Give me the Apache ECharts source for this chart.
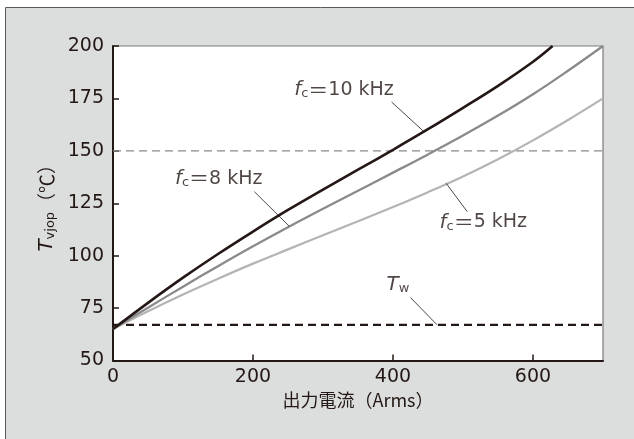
<!DOCTYPE html>
<html>
<head>
<meta charset="utf-8">
<script src="https://cdn.jsdelivr.net/npm/echarts@6/dist/echarts.min.js"></script>
<style>
  html, body { margin: 0; padding: 0; background: #fff; }
  #chart { width: 634px; height: 439px; }
</style>
</head>
<body>
<div id="chart"></div>
<script>
// 出力電流 (Arms)
var currentA = [0, 50, 100, 150, 200, 250, 300, 350, 400, 450, 500, 550, 600, 650, 700];
var currentA10 = [0, 50, 100, 150, 200, 250, 300, 350, 400, 450, 500, 550, 600, 628];

// Tvjop (℃)
var temp10k = [65, 77.5, 89.5, 100.8, 111.5, 121.8, 131.5, 141, 150.5, 160.3, 170.5, 181, 192.5, 200];
var temp8k = [65, 75.2, 85.2, 95, 104.5, 113.6, 122.4, 131, 139.6, 148.3, 157.3, 166.8, 177, 188.2, 200];
var temp5k = [65, 73.5, 81.5, 89, 96.2, 103, 109.7, 116.4, 123.2, 130.3, 137.8, 146, 155, 164.7, 175];

var limitTemp = 150;
var waterTemp = 67;

// 引き出し線
var leader10 = [[398, 173.3], [443, 159.5]];
var leader8 = [[202, 130.5], [252, 114]];
var leader5 = [[476, 134.5], [506, 121]];
var leaderTw = [[425, 80], [463, 67]];

// ラベル
var labelPos = [[330, 179], [151, 136.7], [529, 115.8], [407, 86]];
var labelText = [
    '{i|f}{s|c}{e|＝}{n|10 kHz}',
    '{i|f}{s|c}{e|＝}{n|8 kHz}',
    '{i|f}{s|c}{e|＝}{n|5 kHz}',
    '{i|T}{s|w}'
];

var ink = '#231815';
var numFont = 'DejaVu Sans';
var jpFont = 'Noto Sans CJK JP';

function zip(xs, ys) {
    return xs.map(function(x, i) { return [x, ys[i]]; });
}

var richText = {
    i: {fontFamily: numFont, fontStyle: 'italic', fontSize: 20, color: ink, lineHeight: 21},
    s: {fontFamily: numFont, fontSize: 13, color: ink, verticalAlign: 'bottom', lineHeight: 12},
    e: {fontFamily: jpFont, fontSize: 20, color: ink, lineHeight: 21},
    n: {fontFamily: numFont, fontSize: 19, color: ink, lineHeight: 21}
};

function leaderSeries(pts) {
    return {
        type: 'line', data: pts, symbol: 'none', silent: true,
        lineStyle: {color: ink, width: 0.8}, z: 4
    };
}

var myChart = echarts.init(document.getElementById('chart'), null, {renderer: 'canvas'});

myChart.setOption({
    backgroundColor: '#fff',
    animation: false,
    graphic: [{
        type: 'rect', z: -10, silent: true,
        shape: {x: 5.5, y: 7.5, width: 700, height: 500},
        style: {fill: '#dcdedd', stroke: '#5a5a5a', lineWidth: 1}
    }],
    grid: {
        left: 113, right: 31, top: 46, bottom: 78.5,
        show: true, backgroundColor: '#fff', borderColor: '#7a7a7a', borderWidth: 1.2
    },
    xAxis: {
        type: 'value', min: 0, max: 700, interval: 200,
        name: '出力電流（Arms）', nameLocation: 'middle', nameGap: 29,
        nameTextStyle: {fontFamily: jpFont, fontSize: 18, color: ink},
        axisLine: {show: true, lineStyle: {color: ink, width: 2}},
        axisTick: {show: true, inside: true, length: 6, lineStyle: {color: ink, width: 1.5}},
        axisLabel: {fontFamily: numFont, fontSize: 19, color: ink, margin: 7, showMaxLabel: false},
        splitLine: {show: false}
    },
    yAxis: {
        type: 'value', min: 50, max: 200, interval: 25,
        name: '{i|T}{s|vjop}{n|（℃）}', nameLocation: 'middle', nameGap: 54, nameRotate: 90,
        nameTextStyle: {
            rich: {
                i: {fontFamily: numFont, fontStyle: 'italic', fontSize: 20, color: ink, lineHeight: 21},
                s: {fontFamily: numFont, fontSize: 13, color: ink, verticalAlign: 'bottom', lineHeight: 12},
                n: {fontFamily: jpFont, fontSize: 19, color: ink, lineHeight: 21}
            }
        },
        axisLine: {show: true, lineStyle: {color: ink, width: 2}},
        axisTick: {show: true, inside: true, length: 6, lineStyle: {color: ink, width: 1.5}},
        axisLabel: {fontFamily: numFont, fontSize: 19, color: ink, margin: 9},
        splitLine: {show: false}
    },
    series: [
        {
            name: 'limit', type: 'line', symbol: 'none', silent: true, z: 1,
            data: [[0, limitTemp], [700, limitTemp]],
            lineStyle: {color: '#8a8a8a', width: 1.3, type: [8, 5]}
        },
        {
            name: 'Tw', type: 'line', symbol: 'none', silent: true, z: 2,
            data: [[0, waterTemp], [700, waterTemp]],
            lineStyle: {color: ink, width: 2.3, type: [8, 5]}
        },
        {
            name: '5kHz', type: 'line', symbol: 'none', smooth: 0.4, silent: true, z: 3,
            data: zip(currentA, temp5k),
            lineStyle: {color: '#b4b4b5', width: 2.2}
        },
        {
            name: '8kHz', type: 'line', symbol: 'none', smooth: 0.4, silent: true, z: 3,
            data: zip(currentA, temp8k),
            lineStyle: {color: '#8a8a8a', width: 2.3}
        },
        {
            name: '10kHz', type: 'line', symbol: 'none', smooth: 0.4, silent: true, z: 3,
            data: zip(currentA10, temp10k),
            lineStyle: {color: ink, width: 2.6}
        },
        leaderSeries(leader10),
        leaderSeries(leader8),
        leaderSeries(leader5),
        leaderSeries(leaderTw),
        {
            name: 'labels', type: 'scatter', symbolSize: 0, silent: true, z: 5,
            data: labelPos.map(function(p, i) { return [p[0], p[1], i]; }),
            label: {
                show: true, position: 'inside',
                formatter: function(params) { return labelText[params.data[2]]; },
                rich: richText
            }
        }
    ]
});
</script>
</body>
</html>
